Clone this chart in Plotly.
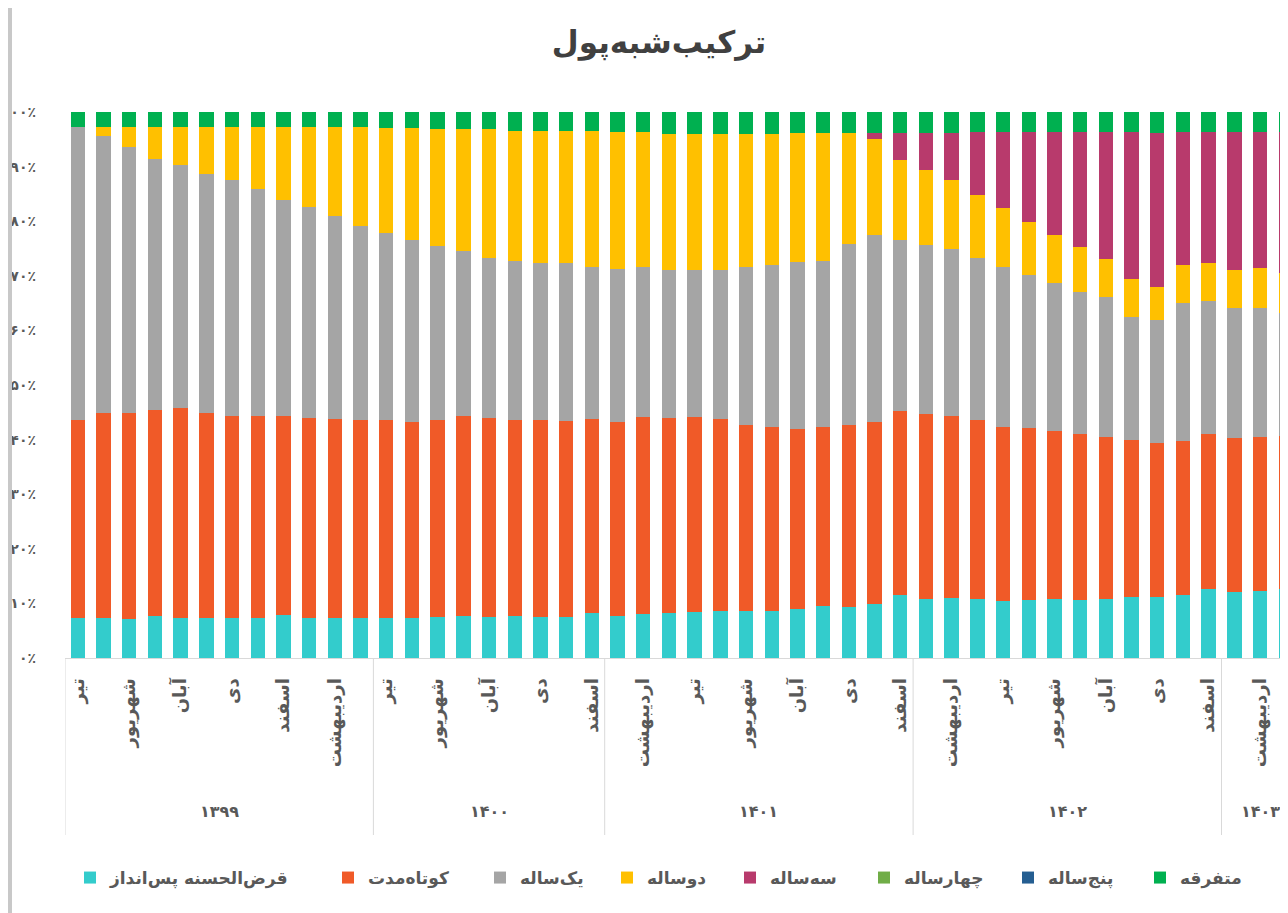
import plotly.graph_objects as go

# ---------------- data ----------------
years = (["۱۳۹۹"] * 12 + ["۱۴۰۰"] * 9 + ["۱۴۰۱"] * 12 + ["۱۴۰۲"] * 12 + ["۱۴۰۳"] * 3)
months = [
    "تیر", "مرداد", "شهریور", "مهر", "آبان", "آذر", "دی", "بهمن", "اسفند", "فروردین", "اردیبهشت", "خرداد",
    "تیر", "مرداد", "شهریور", "مهر", "آبان", "آذر", "دی", "بهمن", "اسفند",
    "فروردین", "اردیبهشت", "خرداد", "تیر", "مرداد", "شهریور", "مهر", "آبان", "آذر", "دی", "بهمن", "اسفند",
    "فروردین", "اردیبهشت", "خرداد", "تیر", "مرداد", "شهریور", "مهر", "آبان", "آذر", "دی", "بهمن", "اسفند",
    "فروردین", "اردیبهشت", "خرداد",
]

qarz = [7.3, 7.4, 7.2, 7.7, 7.4, 7.4, 7.3, 7.3, 7.9, 7.4, 7.4, 7.4,
        7.4, 7.3, 7.6, 7.7, 7.5, 7.7, 7.6, 7.5, 8.3,
        7.7, 8.1, 8.3, 8.5, 8.6, 8.7, 8.6, 8.9, 9.5, 9.4, 9.8, 11.5,
        10.9, 11.0, 10.8, 10.5, 10.6, 10.9, 10.6, 10.8, 11.2, 11.2, 11.5, 12.6,
        12.1, 12.3, 12.7]
kootah = [36.3, 37.5, 37.5, 37.7, 38.5, 37.4, 37.1, 37.1, 36.5, 36.6, 36.4, 36.1,
          36.2, 35.9, 36.0, 36.7, 36.5, 36.0, 36.0, 36.0, 35.4,
          35.5, 36.0, 35.7, 35.6, 35.1, 34.1, 33.8, 33.0, 32.8, 33.3, 33.4, 33.7,
          33.9, 33.3, 32.8, 31.9, 31.6, 30.7, 30.4, 29.7, 28.8, 28.3, 28.3, 28.4,
          28.2, 28.2, 28.0]
yek = [53.7, 50.7, 48.7, 46.1, 44.6, 43.8, 43.1, 41.5, 39.5, 38.6, 37.0, 35.5,
       34.3, 33.4, 31.9, 30.2, 29.2, 29.1, 28.9, 29.0, 27.9,
       28.0, 27.5, 27.2, 27.0, 27.4, 28.8, 29.6, 30.7, 30.5, 33.2, 34.2, 31.4,
       31.0, 30.6, 29.7, 29.3, 28.1, 27.1, 26.1, 25.6, 22.6, 22.4, 25.3, 24.4,
       23.8, 23.6, 22.7]
do = [0.0, 1.6, 3.6, 5.9, 7.1, 8.6, 9.8, 11.4, 13.4, 14.6, 16.4, 18.1,
      19.3, 20.6, 21.4, 22.3, 23.6, 23.9, 24.2, 24.1, 24.9,
      25.1, 24.8, 24.9, 24.8, 24.8, 24.5, 24.1, 23.6, 23.4, 20.5, 17.6, 14.7,
      13.7, 12.6, 11.6, 10.8, 9.7, 8.9, 8.2, 7.1, 6.8, 6.2, 6.9, 7.0,
      7.0, 7.4, 7.3]
se = [0.0] * 31 + [1.2, 4.9,
                   6.8, 8.7, 11.5, 13.9, 16.4, 18.8, 21.1, 23.2, 27.0, 28.2, 24.3, 24.0,
                   25.3, 24.9, 25.8]
chahar = [0.0] * 48
panj = [0.0] * 48
motafareghe = [2.7] * 12 + [2.9, 2.9, 3.2, 3.2, 3.2, 3.4, 3.4, 3.5, 3.5,
                            3.7, 3.7, 4.0, 4.1, 4.1, 4.0, 4.0, 3.8, 3.8, 3.8, 3.8, 3.8,
                            3.8, 3.8, 3.7, 3.7, 3.7, 3.7, 3.7, 3.7, 3.7, 3.8, 3.7, 3.7,
                            3.7, 3.7, 3.7]

series_names = ["قرض‌الحسنه پس‌انداز", "کوتاه‌مدت", "یک‌ساله", "دوساله",
                "سه‌ساله", "چهارساله", "پنج‌ساله", "متفرقه"]
series_values = [qarz, kootah, yek, do, se, chahar, panj, motafareghe]
series_colors = ["#33CCCC", "#F05A28", "#A5A5A5", "#FFC000",
                 "#B83A6C", "#70AD47", "#255E91", "#00B050"]
legend_widths = [213, 107, 82, 78, 89, 99, 87, 70]

y_tick_vals = [0, 10, 20, 30, 40, 50, 60, 70, 80, 90, 100]
y_tick_text = ["۰٪", "۱۰٪", "۲۰٪", "۳۰٪", "۴۰٪", "۵۰٪", "۶۰٪", "۷۰٪", "۸۰٪", "۹۰٪", "۱۰۰٪"]

# ---------------- layout geometry ----------------
OFF = 8                       # page body margin
W, H = 1288 - OFF, 913 - OFF
ML, MR = 65 - OFF, 0
MT = 112 - OFF
MB = H - (658 - OFF)
PW, PH = W - ML - MR, H - MT - MB
FONT = "DejaVu Sans"
TXT = "#595959"


def px_x(p):
    return (p - OFF - ML) / PW


def px_y(p):
    return (H - MB - (p - OFF)) / PH


x = list(range(len(months)))

fig = go.Figure()
for name, vals, col, lw in zip(series_names, series_values, series_colors, legend_widths):
    fig.add_trace(go.Bar(x=x, y=vals, name=name, legendwidth=lw,
                         marker=dict(color=col, line=dict(width=0))))

# group separators and year labels
shapes = []
annotations = []
groups = []
for i, yv in enumerate(years):
    if not groups or groups[-1][0] != yv:
        groups.append([yv, i, i])
    else:
        groups[-1][2] = i
for yv, a, b in groups:
    shapes.append(dict(type="line", xref="x", yref="paper", x0=a - 0.5, x1=a - 0.5,
                       y0=0, y1=px_y(835), line=dict(color="#D9D9D9", width=1)))
    annotations.append(dict(text=yv, xref="x", yref="paper", x=(a + b) / 2, y=px_y(812),
                            xanchor="center", yanchor="middle", showarrow=False,
                            font=dict(family=FONT, size=16, color=TXT, weight="bold")))

# screenshot border on the left
shapes.append(dict(type="rect", xref="paper", yref="paper", x0=px_x(8), x1=px_x(12),
                   y0=px_y(H + 40), y1=px_y(-20), fillcolor="#C8C8C8", line=dict(width=0), layer="above"))

fig.update_layout(
    width=W, height=H,
    margin=dict(l=ML, r=MR, t=MT, b=MB, autoexpand=False),
    paper_bgcolor="white", plot_bgcolor="white",
    barmode="stack", barnorm="percent", bargap=0.44,
    title=dict(text="ترکیب‌شبه‌پول", x=(659 - OFF) / W, xanchor="center",
               y=1 - (42 - OFF) / H, yanchor="middle",
               font=dict(family=FONT, size=31, color="#404040", weight="bold")),
    xaxis=dict(range=[-0.5, PW / 25.7 - 0.5], tickvals=x[::2], ticktext=months[::2],
               tickangle=-90, showgrid=False, zeroline=False, showline=True,
               linecolor="#D9D9D9", linewidth=1, ticks="", ticklabelstandoff=12,
               tickfont=dict(family=FONT, size=18, color=TXT, weight="bold")),
    yaxis=dict(range=[0, 100], tickvals=y_tick_vals, ticktext=y_tick_text,
               showgrid=False, zeroline=False, showline=False, ticks="", ticklabelstandoff=28,
               tickfont=dict(family=FONT, size=14, color=TXT, weight="bold")),
    legend=dict(orientation="h", x=px_x(70), xanchor="left", y=px_y(878), yanchor="middle",
                traceorder="normal", font=dict(family=FONT, size=17, color=TXT, weight="bold")),
    shapes=shapes,
    annotations=annotations,
)

fig.write_html("out.html")
